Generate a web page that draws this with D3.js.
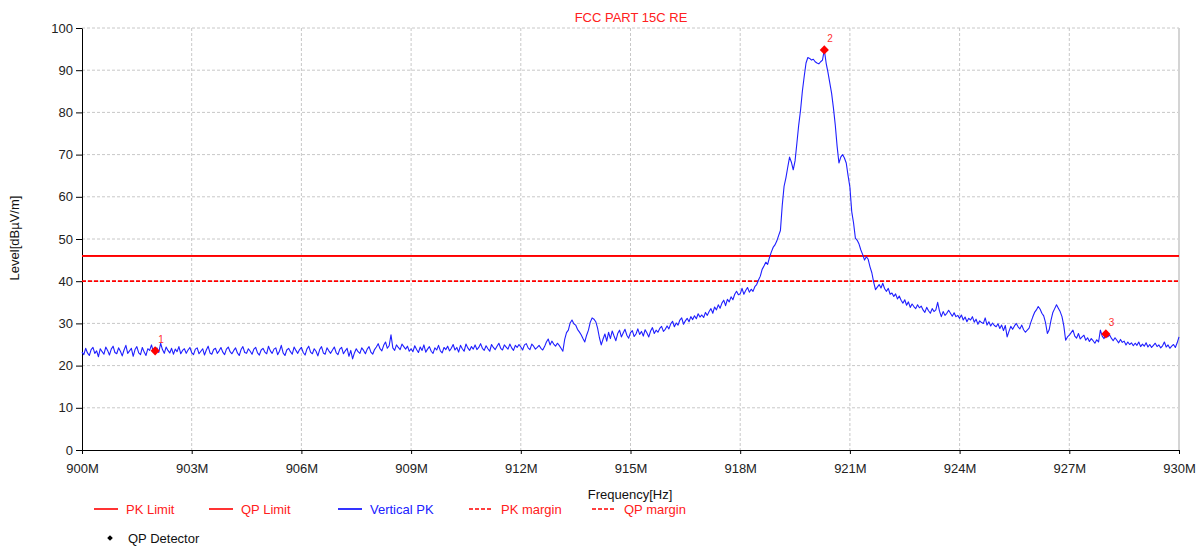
<!DOCTYPE html>
<html>
<head>
<meta charset="utf-8">
<script src="https://cdn.jsdelivr.net/npm/d3@7"></script>
<style>
    body { margin: 0; background: #fff; }
    svg { font-family: "Liberation Sans", Arial, sans-serif; }
    .grid line { stroke: #c8c8c8; stroke-dasharray: 3,2; }
    .axis path, .axis line { stroke: #000; }
    .axis text { fill: #222; font-size: 13px; }
</style>
</head>
<body>
<svg id="chart" width="1198" height="550"></svg>
<script>
// sweep: 900 MHz .. 930 MHz, 0.05 MHz per point
var startMHz = 900;
var stepMHz = 0.05;

// Vertical PK trace, dBuV/m (one row = 1 MHz)
var levels = [
    23.2,22.6,24.1,23.0,22.4,23.8,24.3,22.9,23.5,22.1,24.0,23.3,22.7,24.4,23.6,22.5,23.9,24.6,23.1,22.8,
    24.2,23.4,22.3,23.7,24.8,22.9,23.5,24.1,22.2,23.8,24.5,23.0,22.6,24.3,23.2,22.4,24.0,23.6,24.9,23.3,
    23.5,24.2,23.1,25.3,23.8,22.9,24.4,23.6,23.0,24.1,22.7,23.9,23.3,24.5,22.8,23.6,24.0,22.9,23.7,24.3,
    23.1,22.6,23.9,24.2,22.8,23.4,24.0,22.5,23.7,24.6,23.0,22.7,23.8,24.1,22.9,23.5,24.3,23.2,22.6,23.9,
    24.4,23.3,22.8,23.6,24.2,23.0,22.4,23.8,24.5,23.1,22.9,24.0,23.4,22.7,23.9,24.3,23.0,22.5,23.7,24.1,
    23.2,22.8,24.6,23.5,22.9,23.9,24.2,22.6,23.4,24.8,23.0,22.4,23.7,24.1,23.3,22.7,24.4,23.6,22.9,23.8,
    24.3,23.1,22.5,23.9,24.6,23.2,22.8,24.0,23.4,22.3,23.8,24.5,23.0,22.7,24.2,23.5,22.9,23.7,24.4,23.1,
    22.6,23.9,24.3,22.8,23.5,24.1,22.2,23.6,21.6,23.0,24.0,23.3,22.9,24.2,23.6,22.8,23.9,24.5,23.2,22.7,
    23.8,24.4,25.2,24.0,23.5,24.8,25.6,24.1,24.7,27.3,24.2,23.6,24.9,24.3,23.8,25.1,24.5,23.9,24.6,23.4,
    24.0,23.3,24.7,23.8,23.1,24.4,23.6,24.9,23.2,23.9,24.5,23.4,22.9,24.2,23.7,24.8,23.5,23.0,24.3,23.8,
    24.6,23.5,24.1,25.0,23.7,24.3,23.2,24.8,24.0,23.4,25.1,24.2,23.6,24.5,23.9,24.9,23.8,24.3,25.2,24.1,
    23.6,24.7,24.0,23.4,25.0,24.3,23.8,24.6,25.3,24.1,23.7,24.9,24.4,23.9,25.1,24.2,23.6,24.8,24.3,25.0,
    24.4,23.7,24.9,25.2,24.2,23.8,25.1,24.6,23.9,24.3,24.8,24.1,23.7,24.5,25.6,26.3,24.9,25.8,25.1,24.6,
    25.3,24.8,24.1,23.4,26.2,27.8,28.4,30.1,30.8,29.9,29.6,28.6,28.0,27.3,26.4,25.6,27.2,28.4,30.3,31.3,
    31.0,30.4,28.9,26.6,24.9,26.3,27.5,25.8,27.9,26.4,28.2,27.0,25.9,27.6,28.4,26.8,27.7,28.6,27.2,26.5,
    27.8,28.3,26.9,27.5,28.7,27.4,28.1,27.0,28.5,27.7,26.8,28.2,29.0,27.6,28.4,27.9,28.8,29.3,28.1,28.6,
    29.4,28.7,29.9,30.5,29.2,30.1,29.6,30.8,31.3,29.8,30.6,31.2,30.4,31.6,30.9,31.8,31.1,32.3,31.5,32.0,
    31.4,32.6,31.9,32.8,33.5,32.4,33.9,33.2,34.4,33.6,34.8,35.5,34.2,35.7,35.1,36.3,35.6,36.9,37.6,36.8,
    37.0,38.3,36.9,37.8,38.5,37.4,38.1,37.6,38.7,39.2,40.3,41.2,42.8,43.6,44.5,44.0,45.6,46.9,48.0,48.6,
    49.5,50.8,52.0,58.0,62.5,64.5,67.0,69.4,68.2,66.4,68.5,72.7,77.0,80.5,85.0,88.5,91.7,93.0,92.8,92.4,
    92.6,92.0,91.7,91.5,92.0,92.4,94.8,91.7,89.5,87.0,84.5,81.0,77.0,72.0,68.0,69.4,70.0,69.2,68.0,65.0,
    62.3,56.5,53.8,50.2,49.7,48.8,47.4,46.3,45.0,45.8,45.2,43.4,42.0,39.8,38.0,38.6,39.2,38.4,39.5,38.2,
    37.6,38.3,36.9,37.2,36.4,37.0,35.8,36.5,35.5,34.8,35.6,34.3,35.1,33.8,34.6,34.0,33.5,34.4,33.7,34.1,
    33.2,32.6,33.8,33.0,32.4,33.5,32.8,33.2,35.0,32.9,31.6,32.8,31.9,32.4,33.1,32.4,31.7,32.5,31.6,31.9,
    31.2,32.0,30.8,31.5,30.4,31.2,30.8,31.6,30.3,31.0,29.8,30.6,30.2,30.0,31.3,29.6,30.4,29.4,30.1,29.5,
    29.2,29.9,28.8,29.6,28.3,29.5,26.8,28.1,29.3,28.6,29.4,30.0,29.2,28.7,29.6,28.5,27.9,28.4,28.9,30.3,
    31.5,32.6,33.2,34.0,33.4,32.4,31.8,30.2,27.6,28.5,30.8,32.6,33.5,34.4,33.6,32.8,31.6,29.4,26.0,26.8,
    27.2,27.8,28.4,27.0,26.5,27.6,26.3,26.8,27.2,26.0,26.6,25.7,26.4,25.9,25.3,26.1,25.6,28.4,27.0,26.4,
    27.5,26.8,27.3,26.5,25.9,26.6,26.0,25.4,26.2,25.5,25.8,24.9,25.6,25.0,25.4,24.7,25.3,24.8,25.6,24.5,
    25.1,24.6,25.4,24.4,25.0,24.3,24.8,25.3,24.5,24.9,24.2,24.7,25.6,24.4,24.9,24.1,24.6,25.0,24.3,25.4,
    26.8
];

var pkLimit = 46;
var qpLimit = 46;
var pkMargin = 40;
var qpMargin = 40;

var markerIds = ['1', '2', '3'];
var markerFreqs = [902.0, 920.3, 928.0];
var markerLevels = [23.5, 94.8, 27.5];

var xTicks = [900, 903, 906, 909, 912, 915, 918, 921, 924, 927, 930];
var yTicks = [0, 10, 20, 30, 40, 50, 60, 70, 80, 90, 100];

var legendNames = ['PK Limit', 'QP Limit', 'Vertical PK', 'PK margin', 'QP margin'];

(function () {
    var svg = d3.select('#chart');
    var left = 82, right = 1179, top = 28, bottom = 450;

    var x = d3.scaleLinear().domain([900, 930]).range([left, right]);
    var y = d3.scaleLinear().domain([0, 100]).range([bottom, top]);

    // grid
    var grid = svg.append('g').classed('grid', true);
    grid.selectAll('.gx').data(xTicks.slice(1, -1)).enter().append('line')
        .attr('x1', function (d) { return x(d); })
        .attr('x2', function (d) { return x(d); })
        .attr('y1', top).attr('y2', bottom);
    grid.selectAll('.gy').data(yTicks.slice(1)).enter().append('line')
        .attr('x1', left).attr('x2', right)
        .attr('y1', function (d) { return y(d); })
        .attr('y2', function (d) { return y(d); });

    svg.append('line')
        .attr('x1', right).attr('x2', right)
        .attr('y1', top).attr('y2', bottom)
        .attr('stroke', '#d4d4d4').attr('stroke-width', 2);

    // axes
    var xAxis = svg.append('g').classed('axis', true)
        .attr('transform', 'translate(0,' + bottom + ')')
        .call(d3.axisBottom(x).tickValues(xTicks).tickSize(4).tickSizeOuter(0)
            .tickFormat(function (d) { return d + 'M'; }));
    xAxis.selectAll('text').attr('dy', '1.25em');

    svg.append('g').classed('axis', true)
        .attr('transform', 'translate(' + left + ',0)')
        .call(d3.axisLeft(y).tickValues(yTicks).tickSize(6).tickSizeOuter(0).tickPadding(3));

    // limit lines
    var limitLine = function (value, dashed) {
        svg.append('line')
            .attr('x1', left).attr('x2', right)
            .attr('y1', y(value)).attr('y2', y(value))
            .attr('stroke', '#ff0000').attr('stroke-width', 1.6)
            .attr('stroke-dasharray', dashed ? '4,2' : null);
    };
    limitLine(pkLimit, false);
    limitLine(qpLimit, false);
    limitLine(pkMargin, true);
    limitLine(qpMargin, true);

    // trace
    var line = d3.line()
        .x(function (d, i) { return x(startMHz + i * stepMHz); })
        .y(function (d) { return y(d); });

    svg.append('path')
        .datum(levels)
        .attr('d', line)
        .attr('fill', 'none')
        .attr('stroke', '#1f1fff')
        .attr('stroke-width', 1.1)
        .attr('stroke-linejoin', 'round');

    // markers (square turned 45deg)
    var diamond = d3.symbol().type(d3.symbolSquare).size(42);
    markerIds.forEach(function (id, i) {
        svg.append('path')
            .attr('d', diamond)
            .attr('transform', 'translate(' + x(markerFreqs[i]) + ',' + y(markerLevels[i]) + ') rotate(45)')
            .attr('fill', '#ff0000');
        svg.append('text')
            .attr('x', x(markerFreqs[i]) + 3)
            .attr('y', y(markerLevels[i]) - 8)
            .attr('font-size', 10)
            .attr('fill', '#ff3030')
            .text(id);
    });

    // titles
    svg.append('text')
        .attr('x', 631).attr('y', 22)
        .attr('text-anchor', 'middle')
        .attr('font-size', 13)
        .attr('fill', '#ff2020')
        .text('FCC PART 15C RE');

    svg.append('text')
        .attr('x', 630).attr('y', 499)
        .attr('text-anchor', 'middle')
        .attr('font-size', 13)
        .attr('fill', '#111')
        .text('Frequency[Hz]');

    svg.append('text')
        .attr('transform', 'translate(19,238) rotate(-90)')
        .attr('text-anchor', 'middle')
        .attr('font-size', 13)
        .attr('fill', '#111')
        .text('Level[dBµV/m]');

    // legend
    var legendX = [94, 209, 338, 469, 592];
    var legendColor = ['#ff0000', '#ff0000', '#0000ff', '#ff0000', '#ff0000'];
    var legendText = ['#ff2020', '#ff2020', '#2020ff', '#ff2020', '#ff2020'];
    var legendDash = [null, null, null, '4,2', '4,2'];
    legendNames.forEach(function (name, i) {
        var g = svg.append('g').attr('transform', 'translate(' + legendX[i] + ',509)');
        g.append('line')
            .attr('x1', 0).attr('x2', 24)
            .attr('stroke', legendColor[i]).attr('stroke-width', 1.6)
            .attr('stroke-dasharray', legendDash[i]);
        g.append('text')
            .attr('x', 32).attr('y', 5)
            .attr('font-size', 13)
            .attr('fill', legendText[i])
            .text(name);
    });

    svg.append('path')
        .attr('d', d3.symbol().type(d3.symbolSquare).size(16))
        .attr('transform', 'translate(110,538) rotate(45)')
        .attr('fill', '#000');
    svg.append('text')
        .attr('x', 128).attr('y', 543)
        .attr('font-size', 13)
        .attr('fill', '#111')
        .text('QP Detector');
})();
</script>
</body>
</html>
